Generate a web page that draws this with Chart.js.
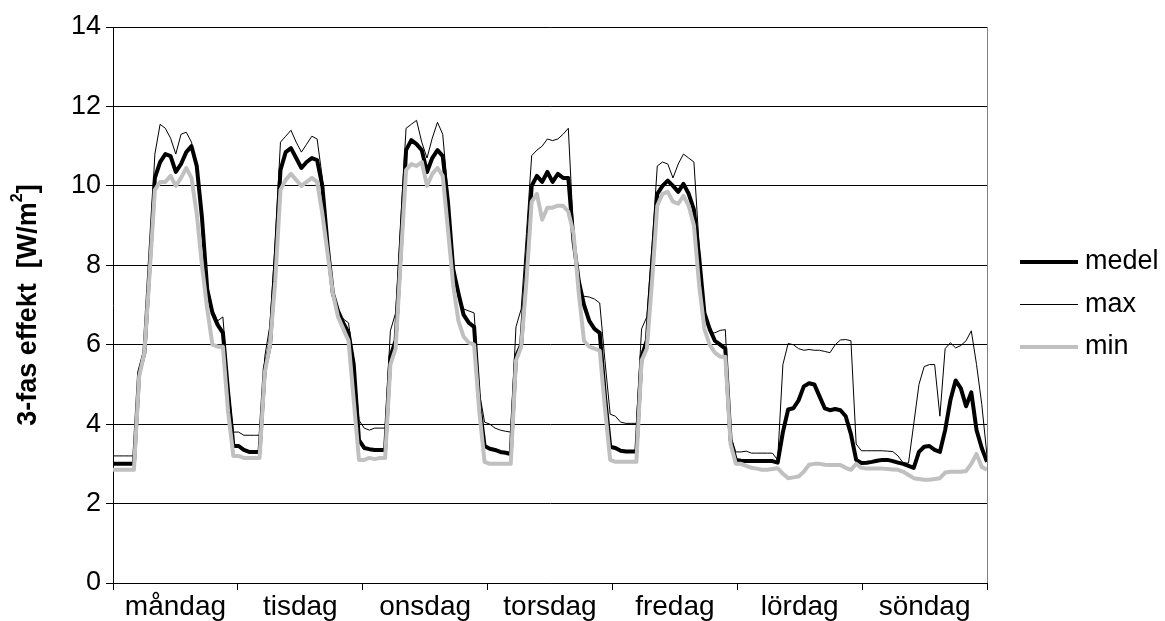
<!DOCTYPE html>
<html>
<head>
<meta charset="utf-8">
<script src="https://cdn.jsdelivr.net/npm/chart.js@4.4.1/dist/chart.umd.min.js"></script>
<style>
  html, body { margin: 0; padding: 0; background: #fff; }
  #wrap { width: 1165px; height: 621px; }
</style>
</head>
<body>
<div id="wrap"><canvas id="effekt"></canvas></div>
<script>
const days = ['måndag', 'tisdag', 'onsdag', 'torsdag', 'fredag', 'lördag', 'söndag'];
const yTicks = [0, 2, 4, 6, 8, 10, 12, 14];

// hourly values, one row per day (mån .. sön)
const medel = [
  3.0, 3.0, 3.0, 3.0, 3.0, 5.3, 5.8, 8.0, 10.2, 10.6, 10.8, 10.75, 10.35, 10.55, 10.85, 11.0, 10.5, 9.2, 7.4, 6.8, 6.5, 6.3, 4.8, 3.45,
  3.45, 3.35, 3.3, 3.3, 3.3, 5.4, 6.0, 8.0, 10.4, 10.85, 10.95, 10.7, 10.45, 10.6, 10.7, 10.65, 10.0, 8.5, 7.3, 6.85, 6.55, 6.3, 5.5, 3.6,
  3.4, 3.37, 3.35, 3.35, 3.35, 5.7, 6.1, 8.4, 10.9, 11.15, 11.05, 10.9, 10.35, 10.7, 10.9, 10.75, 9.6, 7.9, 7.3, 6.75, 6.55, 6.45, 4.5, 3.45,
  3.38, 3.35, 3.3, 3.28, 3.25, 5.7, 6.0, 8.0, 10.0, 10.25, 10.1, 10.35, 10.1, 10.3, 10.2, 10.2, 8.6, 7.6, 7.0, 6.6, 6.4, 6.3, 4.7, 3.43,
  3.4, 3.33, 3.31, 3.31, 3.31, 5.7, 6.1, 8.0, 9.8, 10.0, 10.13, 10.0, 9.85, 10.05, 9.8, 9.4, 8.2, 6.8, 6.4, 6.1, 6.0, 5.9, 3.6, 3.1,
  3.08, 3.07, 3.07, 3.07, 3.07, 3.07, 3.07, 3.03, 3.8, 4.37, 4.4, 4.6, 4.95, 5.03, 5.0, 4.7, 4.4, 4.35, 4.38, 4.35, 4.2, 3.75, 3.1, 3.02,
  3.03, 3.05, 3.08, 3.1, 3.1, 3.07, 3.03, 3.0, 2.95, 2.9, 3.3, 3.43, 3.45, 3.35, 3.3, 3.85, 4.6, 5.1, 4.9, 4.45, 4.8, 3.85, 3.4, 3.05
];
const maxv = [
  3.2, 3.2, 3.2, 3.2, 3.2, 5.4, 5.9, 8.3, 10.8, 11.55, 11.45, 11.2, 10.8, 11.3, 11.35, 11.1, 10.4, 9.3, 7.5, 6.9, 6.6, 6.7, 5.0, 3.8,
  3.8, 3.72, 3.72, 3.72, 3.72, 5.7, 6.5, 8.6, 11.1, 11.25, 11.4, 11.1, 10.85, 11.05, 11.25, 11.18, 10.2, 8.6, 7.4, 6.8, 6.65, 6.55, 5.6, 4.1,
  3.9, 3.85, 3.9, 3.9, 3.9, 6.35, 6.8, 9.2, 11.45, 11.55, 11.65, 11.1, 10.7, 11.2, 11.6, 11.3, 9.8, 8.0, 7.3, 6.9, 6.85, 6.8, 4.8, 4.05,
  4.0, 3.9, 3.85, 3.82, 3.8, 6.45, 6.9, 8.8, 10.76, 10.9, 11.0, 11.18, 11.14, 11.18, 11.3, 11.45, 8.8, 7.3, 7.22, 7.2, 7.15, 7.05, 5.6, 4.25,
  4.2, 4.05, 4.02, 4.02, 4.02, 6.4, 6.7, 8.5, 10.5, 10.6, 10.55, 10.2, 10.55, 10.8, 10.7, 10.6, 8.5, 6.8, 6.3, 6.3, 6.36, 6.38, 3.7, 3.3,
  3.3, 3.32, 3.27, 3.27, 3.27, 3.27, 3.27, 3.1, 5.5, 6.03, 6.0, 5.9, 5.86, 5.88, 5.86, 5.86, 5.83, 5.8, 6.0, 6.12, 6.13, 6.1, 3.5, 3.33,
  3.33, 3.33, 3.33, 3.33, 3.32, 3.31, 3.2, 3.02, 3.02, 4.0, 5.0, 5.45, 5.5, 5.5, 4.2, 5.9, 6.05, 5.92, 5.98, 6.1, 6.35, 5.5, 4.5, 3.2
];
const minv = [
  2.85, 2.85, 2.85, 2.85, 2.85, 5.2, 5.8, 7.8, 9.9, 10.1, 10.1, 10.25, 10.0, 10.2, 10.45, 10.2, 9.3, 8.0, 6.9, 6.0, 5.95, 5.95, 4.3, 3.2,
  3.2, 3.15, 3.15, 3.15, 3.15, 5.3, 6.0, 7.6, 9.9, 10.15, 10.3, 10.15, 10.0, 10.1, 10.2, 10.1, 9.3, 8.3, 7.3, 6.7, 6.4, 6.1, 4.6, 3.1,
  3.1, 3.15, 3.12, 3.15, 3.15, 5.5, 5.9, 8.2, 10.4, 10.55, 10.5, 10.6, 10.0, 10.3, 10.45, 10.25, 8.9, 7.5, 6.6, 6.2, 6.05, 6.0, 4.3, 3.05,
  3.0, 3.0, 3.0, 3.0, 3.0, 5.6, 5.95, 7.6, 9.6, 9.8, 9.15, 9.45, 9.45, 9.5, 9.5, 9.35, 8.8, 7.3, 6.1, 5.95, 5.9, 5.85, 4.4, 3.1,
  3.05, 3.05, 3.05, 3.05, 3.05, 5.6, 5.9, 7.6, 9.5, 9.8, 9.85, 9.6, 9.55, 9.75, 9.5, 9.0, 7.5, 6.4, 6.0, 5.8, 5.7, 5.7, 3.5, 3.0,
  3.0, 2.95, 2.9, 2.88, 2.85, 2.85, 2.87, 2.89, 2.75, 2.64, 2.66, 2.68, 2.8, 2.98, 3.0, 3.0, 2.98, 2.97, 2.97, 2.97, 2.9, 2.85, 3.0, 2.9,
  2.88, 2.88, 2.88, 2.88, 2.87, 2.86, 2.85, 2.8, 2.72, 2.64, 2.62, 2.6, 2.6, 2.62, 2.64, 2.78, 2.8, 2.8, 2.8, 2.82, 3.0, 3.25, 2.92, 2.85
];

const FONT = 'Arial, "Liberation Sans", sans-serif';
const lastHour = medel.length - 1;
const dayLen = lastHour / days.length;

const toPoints = values => values.map((v, i) => ({ x: i, y: v }));

// y-axis title with a raised "2"
const yTitle = {
  id: 'yTitle',
  afterDraw(chart) {
    const c = chart.ctx;
    const main = '3-fas effekt  [W/m', sup = '2', tail = ']';
    c.save();
    c.translate(29, (chart.chartArea.top + chart.chartArea.bottom) / 2);
    c.rotate(-Math.PI / 2);
    c.fillStyle = '#000';
    c.textBaseline = 'middle';
    c.font = 'bold 27px ' + FONT;
    const w1 = c.measureText(main).width, w3 = c.measureText(tail).width;
    c.font = 'bold 16px ' + FONT;
    const w2 = c.measureText(sup).width;
    let x = -(w1 + w2 + w3) / 2;
    c.font = 'bold 27px ' + FONT;
    c.fillText(main, x, 0);
    x += w1;
    c.font = 'bold 16px ' + FONT;
    c.fillText(sup, x, -11);
    x += w2;
    c.font = 'bold 27px ' + FONT;
    c.fillText(tail, x, 0);
    c.restore();
  }
};

// plot frame on the right and the legend beside the plot
const sideLegend = {
  id: 'sideLegend',
  afterDraw(chart) {
    const c = chart.ctx, a = chart.chartArea;
    c.save();
    c.strokeStyle = '#808080';
    c.lineWidth = 1;
    c.beginPath();
    c.moveTo(a.right + 0.5, a.top);
    c.lineTo(a.right + 0.5, a.bottom);
    c.stroke();

    const rows = [262, 304.5, 347];
    chart.data.datasets.forEach((ds, i) => {
      c.strokeStyle = ds.borderColor;
      c.lineWidth = ds.borderWidth;
      c.beginPath();
      c.moveTo(1020, rows[i]);
      c.lineTo(1078, rows[i]);
      c.stroke();
      c.fillStyle = '#000';
      c.font = '27px ' + FONT;
      c.textBaseline = 'middle';
      c.fillText(ds.label, 1085, rows[i]);
    });
    c.restore();
  }
};

new Chart(document.getElementById('effekt'), {
  type: 'line',
  data: {
    datasets: [
      { label: 'medel', data: toPoints(medel), borderColor: '#000000', borderWidth: 4, order: 2 },
      { label: 'max', data: toPoints(maxv), borderColor: '#000000', borderWidth: 1, order: 1 },
      { label: 'min', data: toPoints(minv), borderColor: '#c0c0c0', borderWidth: 4, order: 0 }
    ]
  },
  options: {
    responsive: true,
    maintainAspectRatio: false,
    animation: false,
    devicePixelRatio: 1,
    layout: { padding: { top: 27, right: 178, bottom: 0, left: 0 } },
    elements: {
      point: { radius: 0 },
      line: { tension: 0, fill: false, borderJoinStyle: 'round' }
    },
    plugins: { legend: { display: false }, tooltip: { enabled: false } },
    scales: {
      x: {
        type: 'linear',
        min: 0,
        max: lastHour,
        afterBuildTicks: axis => {
          const t = [];
          for (let d = 0; d < days.length; d++) {
            t.push({ value: d * dayLen }, { value: (d + 0.5) * dayLen });
          }
          t.push({ value: lastHour });
          axis.ticks = t;
        },
        afterFit: axis => { axis.height = 38; },
        grid: {
          drawOnChartArea: false,
          tickLength: 7,
          tickColor: ctx => (ctx.index % 2 === 0 ? '#000' : 'rgba(0,0,0,0)')
        },
        border: { color: '#000', width: 1 },
        ticks: {
          autoSkip: false,
          maxRotation: 0,
          padding: 0,
          color: '#000',
          font: { family: FONT, size: 28 },
          callback: (v, i) => (i % 2 ? days[(i - 1) / 2] : '')
        }
      },
      y: {
        min: 0,
        max: 14,
        afterBuildTicks: axis => { axis.ticks = yTicks.map(v => ({ value: v })); },
        afterFit: axis => { axis.width = 113; },
        grid: { color: '#000', lineWidth: 1, tickLength: 7 },
        border: { color: '#000', width: 1 },
        ticks: {
          padding: 5,
          color: '#000',
          font: { family: FONT, size: 27 }
        }
      }
    }
  },
  plugins: [yTitle, sideLegend]
});
</script>
</body>
</html>
